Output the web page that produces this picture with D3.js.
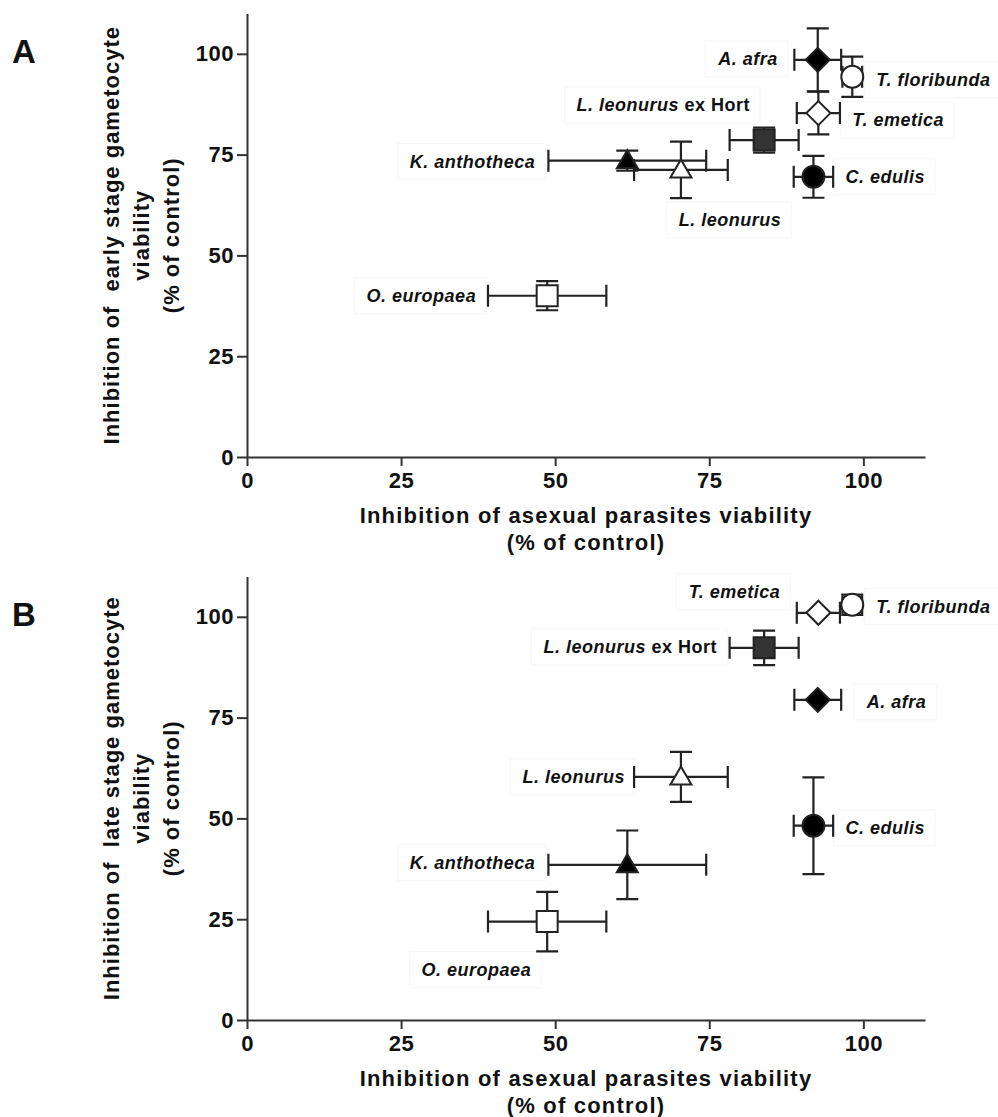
<!DOCTYPE html>
<html>
<head>
<meta charset="utf-8">
<script src="https://cdn.jsdelivr.net/npm/d3@7"></script>
<style>
  body { margin: 0; background: #fff; }
  text { font-family: "Liberation Sans", Arial, sans-serif; }
</style>
</head>
<body>
<div class="chart-holder"></div>
<script>
// values
let species = ['A. afra', 'T. floribunda', 'T. emetica', 'L. leonurus ex Hort', 'K. anthotheca', 'L. leonurus', 'C. edulis', 'O. europaea']
let asexualMean = [92.6, 98.2, 92.7, 83.9, 61.7, 70.4, 91.9, 48.7]
let asexualErr = [3.8, 1.6, 3.5, 5.6, 12.8, 7.6, 3.2, 9.6]
let earlyMean = [98.5, 94.3, 85.3, 78.6, 73.5, 71.2, 69.5, 40.0]
let earlyErr = [7.8, 5.0, 5.3, 3.1, 2.5, 7.0, 5.2, 3.6]
let lateMean = [79.4, 103.0, 101.0, 92.3, 38.5, 60.3, 48.2, 24.4]
let lateErr = [1.2, 2.5, 1.2, 4.3, 8.5, 6.2, 12.0, 7.4]
let tickValues = [0, 25, 50, 75, 100]

let width = 998, height = 1117
let xRange = [247, 925]

// marker look per species
let markerStyle = {
    'A. afra': { shape: 'diamond', fill: '#000' },
    'T. floribunda': { shape: 'circle', fill: '#fff' },
    'T. emetica': { shape: 'diamond', fill: '#fff' },
    'L. leonurus ex Hort': { shape: 'square', fill: '#333' },
    'K. anthotheca': { shape: 'triangle', fill: '#000' },
    'L. leonurus': { shape: 'triangle', fill: '#fff' },
    'C. edulis': { shape: 'circle', fill: '#000' },
    'O. europaea': { shape: 'square', fill: '#fff' }
}

let shapes = {
    diamond: { draw(c) { c.moveTo(0, -12); c.lineTo(12, 0); c.lineTo(0, 12); c.lineTo(-12, 0); c.closePath() } },
    circle: { draw(c) { c.moveTo(11, 0); c.arc(0, 0, 11, 0, 2 * Math.PI) } },
    square: { draw(c) { c.rect(-10.5, -10.5, 21, 21) } },
    triangle: { draw(c) { c.moveTo(0, -10.5); c.lineTo(10.5, 7.5); c.lineTo(-10.5, 7.5); c.closePath() } }
}

// label placement, offset from the marker centre in px
let panels = [
    {
        letter: 'A', top: 13.5, bottom: 457, yMean: earlyMean, yErr: earlyErr,
        yTitle: 'Inhibition of  early stage gametocyte',
        labels: {
            'A. afra': [-40, -1, 'end'],
            'T. floribunda': [24, 3, 'start'],
            'T. emetica': [34, 7, 'start'],
            'L. leonurus ex Hort': [-14, -35, 'end'],
            'K. anthotheca': [-92, 1, 'end'],
            'L. leonurus': [49, 50, 'middle'],
            'C. edulis': [32, 0, 'start'],
            'O. europaea': [-71, 0, 'end']
        }
    },
    {
        letter: 'B', top: 576.5, bottom: 1020, yMean: lateMean, yErr: lateErr,
        yTitle: 'Inhibition of  late stage gametocyte',
        labels: {
            'A. afra': [49, 2, 'start'],
            'T. floribunda': [24, 2, 'start'],
            'T. emetica': [-38, -21, 'end'],
            'L. leonurus ex Hort': [-47, -1, 'end'],
            'K. anthotheca': [-92, -2, 'end'],
            'L. leonurus': [-56, 0, 'end'],
            'C. edulis': [32, 2, 'start'],
            'O. europaea': [-16, 48, 'end']
        }
    }
]

let svg = d3.select('.chart-holder')
    .append('svg')
        .attr('width', width)
        .attr('height', height)

let x = d3.scaleLinear().domain([0, 110]).range(xRange)

panels.forEach(function(p){
    let y = d3.scaleLinear().domain([0, 110]).range([p.bottom, p.top])
    let g = svg.append('g').attr('class', 'panel')

    // axes
    g.append('g')
        .attr('transform', 'translate(' + x(0) + ',0)')
        .call(d3.axisLeft(y).tickValues(tickValues).tickSize(10).tickPadding(3).tickSizeOuter(0))
    g.append('g')
        .attr('transform', 'translate(0,' + y(0) + ')')
        .call(d3.axisBottom(x).tickValues(tickValues).tickSize(9).tickPadding(6).tickSizeOuter(0))

    g.selectAll('.domain, .tick line')
        .attr('stroke', '#333').attr('stroke-width', 2)
    g.selectAll('.tick text')
        .attr('font-size', 22).attr('font-weight', 'bold')
        .attr('letter-spacing', 0.5).attr('fill', '#111')

    // axis titles
    let xTitle = g.append('text')
        .attr('text-anchor', 'middle')
        .attr('font-size', 22).attr('font-weight', 'bold')
        .attr('letter-spacing', 1.2).attr('fill', '#111')
    xTitle.append('tspan')
        .attr('x', (xRange[0] + xRange[1]) / 2).attr('y', p.bottom + 66)
        .text('Inhibition of asexual parasites viability')
    xTitle.append('tspan')
        .attr('x', (xRange[0] + xRange[1]) / 2).attr('y', p.bottom + 93)
        .text('(% of control)')

    let midY = (p.top + p.bottom) / 2
    let yTitleLines = [p.yTitle, 'viability', '(% of control)']
    let yLineX = [112, 142, 172]
    g.selectAll('.ytitle')
        .data(yTitleLines)
        .enter()
        .append('text').attr('class', 'ytitle')
            .attr('transform', (d, i) => 'translate(' + (yLineX[i] + 7) + ',' + midY + ') rotate(-90)')
            .attr('text-anchor', 'middle')
            .attr('font-size', 22).attr('font-weight', 'bold')
            .attr('letter-spacing', 1).attr('fill', '#111')
            .style('white-space', 'pre')
            .text(d => d)

    g.append('text')
        .attr('x', 12).attr('y', p.top + 49)
        .attr('font-size', 33).attr('font-weight', 'bold')
        .attr('fill', '#111')
        .text(p.letter)

    let points = species.map((s, i) => ({
        name: s, x: asexualMean[i], xe: asexualErr[i], y: p.yMean[i], ye: p.yErr[i]
    }))

    // labels with faint boxes
    let labelG = g.append('g').attr('class', 'labels')
    points.forEach(function(d){
        let off = p.labels[d.name]
        let t = labelG.append('text')
            .attr('x', x(d.x) + off[0]).attr('y', y(d.y) + off[1])
            .attr('text-anchor', off[2])
            .attr('dominant-baseline', 'central')
            .attr('font-size', 18).attr('font-weight', 'bold')
            .attr('letter-spacing', 0.5).attr('fill', '#111')
        if (d.name.endsWith(' ex Hort')) {
            t.append('tspan').attr('font-style', 'italic').text(d.name.replace(' ex Hort', ''))
            t.append('tspan').text(' ex Hort')
        } else {
            t.attr('font-style', 'italic').text(d.name)
        }
        let b = t.node().getBBox()
        labelG.insert('rect', 'text')
            .attr('x', b.x - 12).attr('y', b.y - 8)
            .attr('width', b.width + 22).attr('height', b.height + 16)
            .attr('fill', 'none').attr('stroke', '#f7f7f7').attr('stroke-width', 1)
    })

    // error bars (bars shorter than the marker are hidden, like the original)
    let bars = g.append('g').attr('class', 'errors')
        .attr('stroke', '#222').attr('stroke-width', 2.2).attr('fill', 'none')
    let cap = 11
    points.forEach(function(d){
        let cx = x(d.x), cy = y(d.y)
        let x0 = x(d.x - d.xe), x1 = x(d.x + d.xe)
        let y0 = y(d.y - d.ye), y1 = y(d.y + d.ye)
        let path = d3.path()
        path.moveTo(x0, cy); path.lineTo(x1, cy)
        path.moveTo(x0, cy - cap); path.lineTo(x0, cy + cap)
        path.moveTo(x1, cy - cap); path.lineTo(x1, cy + cap)
        if (y0 - cy > 6) {
            path.moveTo(cx, y0); path.lineTo(cx, y1)
            path.moveTo(cx - cap, y0); path.lineTo(cx + cap, y0)
            path.moveTo(cx - cap, y1); path.lineTo(cx + cap, y1)
        }
        bars.append('path').attr('d', path.toString())
    })

    // markers
    g.append('g').attr('class', 'markers')
        .selectAll('path')
        .data(points)
        .enter()
        .append('path')
            .attr('transform', d => 'translate(' + x(d.x) + ',' + y(d.y) + ')')
            .attr('d', d => d3.symbol().type(shapes[markerStyle[d.name].shape])())
            .attr('fill', d => markerStyle[d.name].fill)
            .attr('stroke', '#222').attr('stroke-width', 2)
})
</script>
</body>
</html>
